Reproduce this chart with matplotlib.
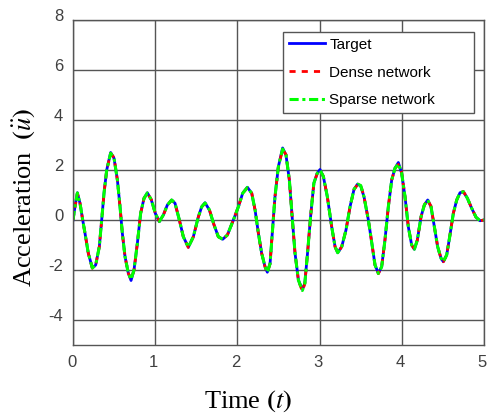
import numpy as np
import matplotlib
matplotlib.use('Agg')
import matplotlib.pyplot as plt
import matplotlib.transforms as mtransforms

# time axis and values
t = [0.0, 0.024, 0.053, 0.085, 0.118, 0.146, 0.186, 0.235, 0.276, 0.32,
     0.349, 0.377, 0.41, 0.458, 0.499, 0.54, 0.572, 0.6, 0.633, 0.673,
     0.706, 0.742, 0.783, 0.823, 0.864, 0.904, 0.953, 1.001, 1.05, 1.099,
     1.148, 1.2, 1.241, 1.294, 1.342, 1.403, 1.464, 1.525, 1.566, 1.606,
     1.659, 1.716, 1.768, 1.821, 1.878, 1.951, 2.012, 2.064, 2.121, 2.174,
     2.215, 2.255, 2.295, 2.336, 2.364, 2.397, 2.43, 2.457, 2.498, 2.55,
     2.591, 2.632, 2.669, 2.701, 2.742, 2.79, 2.82, 2.853, 2.89, 2.93,
     2.971, 3.005, 3.046, 3.094, 3.147, 3.188, 3.22, 3.269, 3.321, 3.37,
     3.419, 3.463, 3.5, 3.54, 3.593, 3.634, 3.674, 3.715, 3.755, 3.795,
     3.836, 3.877, 3.917, 3.958, 3.998, 4.039, 4.079, 4.12, 4.153, 4.189,
     4.234, 4.274, 4.315, 4.355, 4.396, 4.436, 4.477, 4.505, 4.546, 4.586,
     4.627, 4.668, 4.708, 4.749, 4.798, 4.85, 4.903, 4.952, 5.0]

target = [0.0, 0.53, 1.09, 0.67, 0.0, -0.53, -1.33, -1.92, -1.8, -1.07,
          0.0, 1.07, 2.0, 2.7, 2.47, 1.6, 0.53, -0.53, -1.47, -2.13,
          -2.42, -2.0, -0.93, 0.27, 0.87, 1.09, 0.8, 0.27, -0.07, 0.2,
          0.6, 0.8, 0.67, 0.0, -0.67, -1.09, -0.67, 0.13, 0.53, 0.69,
          0.4, -0.2, -0.67, -0.77, -0.6, 0.0, 0.53, 1.07, 1.31, 1.07,
          0.4, -0.53, -1.33, -1.87, -2.09, -1.75, -0.27, 0.93, 2.13, 2.88,
          2.6, 1.6, 0.0, -1.33, -2.4, -2.78, -2.53, -1.33, 0.13, 1.47,
          1.87, 2.02, 1.73, 0.93, -0.27, -1.07, -1.31, -1.07, -0.4, 0.53,
          1.23, 1.44, 1.36, 0.93, 0.0, -0.9, -1.8, -2.13, -1.87, -0.8,
          0.53, 1.6, 2.07, 2.3, 1.87, 0.93, -0.27, -1.0, -1.17, -0.8,
          0.13, 0.6, 0.8, 0.53, -0.27, -1.07, -1.53, -1.67, -1.4, -0.6,
          0.27, 0.8, 1.09, 1.13, 0.87, 0.47, 0.11, -0.03, 0.0]

dense = [0.0, 0.52, 1.07, 0.68, 0.0, -0.53, -1.33, -1.93, -1.8, -1.07,
         0.0, 1.06, 2.0, 2.66, 2.5, 1.6, 0.53, -0.53, -1.47, -2.13,
         -2.36, -2.02, -0.93, 0.27, 0.87, 1.07, 0.82, 0.27, -0.05, 0.2,
         0.6, 0.79, 0.67, 0.0, -0.67, -1.1, -0.67, 0.12, 0.53, 0.66,
         0.42, -0.2, -0.67, -0.78, -0.6, 0.0, 0.53, 1.07, 1.29, 1.08,
         0.4, -0.53, -1.33, -1.87, -2.1, -1.75, -0.27, 0.93, 2.12, 2.82,
         2.62, 1.6, 0.0, -1.33, -2.42, -2.85, -2.55, -1.33, 0.13, 1.47,
         1.86, 1.98, 1.75, 0.93, -0.27, -1.07, -1.31, -1.07, -0.4, 0.53,
         1.22, 1.42, 1.4, 0.93, 0.0, -0.9, -1.8, -2.15, -1.87, -0.8,
         0.53, 1.6, 2.07, 2.22, 1.9, 0.93, -0.27, -1.0, -1.17, -0.8,
         0.13, 0.6, 0.8, 0.55, -0.27, -1.07, -1.53, -1.67, -1.4, -0.6,
         0.27, 0.8, 1.08, 1.14, 0.87, 0.47, 0.11, -0.03, 0.0]

sparse = [0.0, 0.53, 1.08, 0.67, 0.0, -0.53, -1.33, -1.92, -1.8, -1.07,
          0.0, 1.07, 2.0, 2.67, 2.48, 1.6, 0.53, -0.53, -1.47, -2.13,
          -2.38, -2.0, -0.93, 0.27, 0.87, 1.08, 0.81, 0.27, -0.06, 0.2,
          0.6, 0.8, 0.67, 0.0, -0.67, -1.09, -0.67, 0.13, 0.53, 0.68,
          0.41, -0.2, -0.67, -0.77, -0.6, 0.0, 0.53, 1.07, 1.3, 1.07,
          0.4, -0.53, -1.33, -1.87, -2.09, -1.75, -0.27, 0.93, 2.13, 2.84,
          2.61, 1.6, 0.0, -1.33, -2.41, -2.82, -2.54, -1.33, 0.13, 1.47,
          1.87, 2.0, 1.74, 0.93, -0.27, -1.07, -1.31, -1.07, -0.4, 0.53,
          1.23, 1.43, 1.38, 0.93, 0.0, -0.9, -1.8, -2.14, -1.87, -0.8,
          0.53, 1.6, 2.07, 2.25, 1.88, 0.93, -0.27, -1.0, -1.17, -0.8,
          0.13, 0.6, 0.8, 0.54, -0.27, -1.07, -1.53, -1.67, -1.4, -0.6,
          0.27, 0.8, 1.09, 1.13, 0.87, 0.47, 0.11, -0.03, 0.0]

x_ticks = [0, 1, 2, 3, 4, 5]
y_ticks = [-4, -2, 0, 2, 4, 6, 8]

plt.rcParams['font.family'] = ['Liberation Sans', 'DejaVu Sans']
plt.rcParams['mathtext.fontset'] = 'stix'

fig = plt.figure(figsize=(4.89, 4.20), dpi=100)
ax = fig.add_axes([0.1493, 0.1786, 0.8405, 0.7738])

ax.plot(t, target, color='#0000ff', linewidth=2.0, label='Target')
ax.plot(t, dense, color='#ff0000', linewidth=2.0, linestyle=(0, (2.2, 2.2)), label='Dense network')
ax.plot(t, sparse, color='#00ff00', linewidth=2.2, linestyle=(0, (3.0, 1.2, 1.0, 1.2)), label='Sparse network')

ax.set_xlim(0, 5)
ax.set_ylim(-5, 8)
ax.set_xticks(x_ticks)
ax.set_yticks(y_ticks)
ax.set_xticklabels([str(v) for v in x_ticks])
ax.set_yticklabels([str(v) for v in y_ticks])
ax.tick_params(length=0, labelsize=12, labelcolor='#404040', pad=7)
ax.grid(True, color='#555555', linewidth=1.0)
ax.set_axisbelow(True)
for s in ax.spines.values():
    s.set_color('#555555')
    s.set_linewidth(1.0)

# matlab-like label offsets
up = mtransforms.ScaledTranslation(0, 4.5 / 100, fig.dpi_scale_trans)
for lab in ax.get_yticklabels():
    lab.set_transform(lab.get_transform() + up)
left = mtransforms.ScaledTranslation(-1.5 / 100, 0, fig.dpi_scale_trans)
for lab in ax.get_xticklabels():
    lab.set_transform(lab.get_transform() + left)

ax.set_xlabel(r'Time $\mathbf{(}t\mathbf{)}$', fontfamily='Liberation Serif', fontsize=19)
ax.xaxis.set_label_coords(0.426, -0.133)
ax.set_ylabel(r'Acceleration  $\mathbf{(}\ddot{u}\mathbf{)}$', fontfamily='Liberation Serif', fontsize=19)
ax.yaxis.set_label_coords(-0.088, 0.454)

leg = ax.legend(loc='upper left', bbox_to_anchor=(0.510, 0.0, 0.466, 0.964), mode='expand',
                fontsize=11, handlelength=2.4, handletextpad=0.25, labelspacing=0.9,
                borderpad=0.4, fancybox=False, framealpha=1.0, borderaxespad=0)
leg.get_frame().set_edgecolor('#555555')
leg.get_frame().set_linewidth(1.0)

fig.savefig('out.png', dpi=100)
